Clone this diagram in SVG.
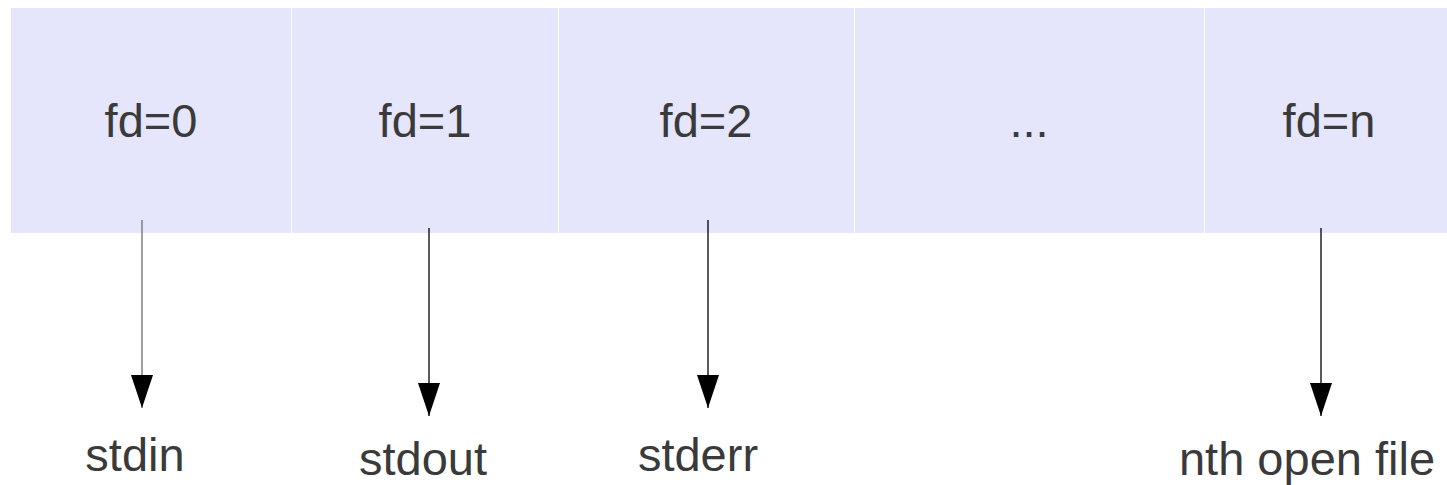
<svg xmlns="http://www.w3.org/2000/svg" width="1447" height="485" viewBox="0 0 1447 485">
  <style>
    .cell { fill: #e5e5fc; }
    .div { stroke: #ffffff; stroke-width: 2; }
    .t { font-family: "Liberation Sans", Arial, sans-serif; font-size: 47px; fill: #3a3a3a; text-anchor: middle; }
    .c { stroke: #000000; stroke-width: 1.3; fill: none; marker-end: url(#ah); }
  </style>
  <defs>
    <marker id="ah" viewBox="0 0 33 22" refX="33" refY="11" markerWidth="33" markerHeight="22" markerUnits="userSpaceOnUse" orient="auto">
      <path d="M0,0 L33,11 L0,22 z" fill="#000000"/>
    </marker>
  </defs>
  <rect x="0" y="0" width="1447" height="485" fill="#ffffff"/>
  <g id="fd0">
    <rect class="cell" x="11" y="8" width="280" height="225"/>
    <text class="t" x="151" y="137">fd=0</text>
  </g>
  <g id="fd1">
    <rect class="cell" x="292" y="8" width="266" height="225"/>
    <text class="t" x="425" y="137">fd=1</text>
  </g>
  <g id="fd2">
    <rect class="cell" x="559" y="8" width="295" height="225"/>
    <text class="t" x="706" y="137">fd=2</text>
  </g>
  <g id="fddots">
    <rect class="cell" x="855" y="8" width="349" height="225"/>
    <text class="t" x="1029" y="137">...</text>
  </g>
  <g id="fdn">
    <rect class="cell" x="1205" y="8" width="242" height="225"/>
    <text class="t" x="1329" y="137">fd=n</text>
  </g>
  <g id="stdin"><text class="t" x="135" y="471">stdin</text></g>
  <g id="stdout"><text class="t" x="423" y="475">stdout</text></g>
  <g id="stderr"><text class="t" x="698" y="471">stderr</text></g>
  <g id="nthfile"><text class="t" x="1307" y="475">nth open file</text></g>
  <g id="connectors">
    <line class="c" x1="142" y1="220" x2="142" y2="408" style="stroke:#6e6e6e"/>
    <line class="c" x1="429" y1="228" x2="429" y2="416"/>
    <line class="c" x1="708" y1="220" x2="708" y2="408"/>
    <line class="c" x1="1321" y1="228" x2="1321" y2="416"/>
  </g>
</svg>
